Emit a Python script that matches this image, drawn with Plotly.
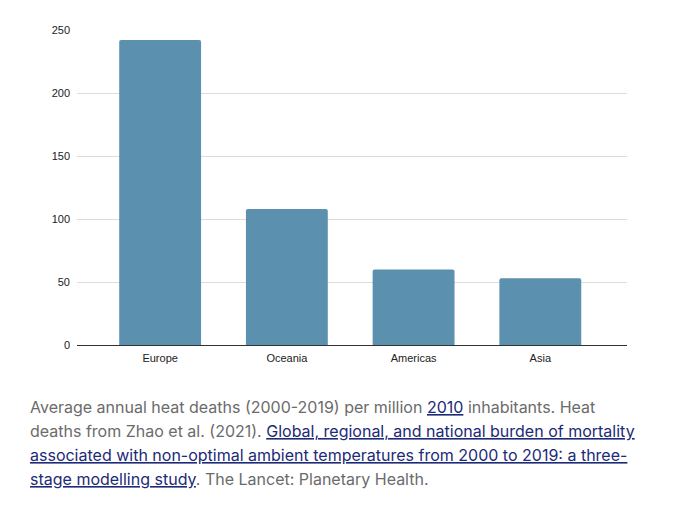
import plotly.graph_objects as go

# Data
regions = ["Europe", "Oceania", "Americas", "Asia"]
heat_deaths = [242, 108, 60, 53]
y_ticks = [0, 50, 100, 150, 200, 250]

caption_lines = [
    'Average annual heat deaths (2000-2019) per million '
    '<a href="#"><span style="color:#1c2a78"><u>2010</u></span></a> inhabitants. Heat',
    'deaths from Zhao et al. (2021). '
    '<a href="#"><span style="color:#1c2a78"><u>Global, regional, and national burden of mortality</u></span></a>',
    '<a href="#"><span style="color:#1c2a78"><u>associated with non-optimal ambient temperatures from 2000 to 2019: a three-</u></span></a>',
    '<a href="#"><span style="color:#1c2a78"><u>stage modelling study</u></span></a>. The Lancet: Planetary Health.',
]

# page body has an 8px margin, so the figure is a bit smaller than the window
W, H = 665, 502
L, R, T, B = 69, 46, 22, 165

fig = go.Figure()
fig.add_trace(go.Bar(
    x=regions,
    y=heat_deaths,
    width=0.646,
    marker=dict(color="#5b91af", line=dict(width=0), cornerradius=2),
    hoverinfo="x+y",
))

fig.update_layout(
    width=W,
    height=H,
    margin=dict(l=L, r=R, t=T, b=B),
    plot_bgcolor="white",
    paper_bgcolor="white",
    showlegend=False,
    font=dict(family="Liberation Sans, Arial, sans-serif", size=11, color="#222222"),
    xaxis=dict(
        range=[-0.656, 3.684],
        showgrid=False,
        showline=True,
        linecolor="#333333",
        linewidth=1,
        ticks="",
        ticklabelstandoff=3,
        tickfont=dict(size=11, color="#222222"),
    ),
    yaxis=dict(
        range=[0, 250],
        tickvals=y_ticks,
        showgrid=True,
        gridcolor="#dcdcdc",
        gridwidth=1,
        zeroline=False,
        showline=False,
        ticks="",
        ticklabelstandoff=6,
        tickfont=dict(size=11, color="#222222"),
    ),
)

# Caption under the chart, one annotation per line
plot_h = H - T - B
plot_w = W - L - R
line_centers = [399, 423, 447, 471]
for txt, yc in zip(caption_lines, line_centers):
    fig.add_annotation(
        text=txt,
        xref="paper", yref="paper",
        x=(20 - L) / plot_w,
        y=(H - B - yc) / plot_h,
        xanchor="left", yanchor="middle",
        showarrow=False,
        align="left",
        font=dict(family="Inter, Noto Sans, sans-serif", size=16, color="#6b6b6b"),
    )

fig.write_html("out.html")
